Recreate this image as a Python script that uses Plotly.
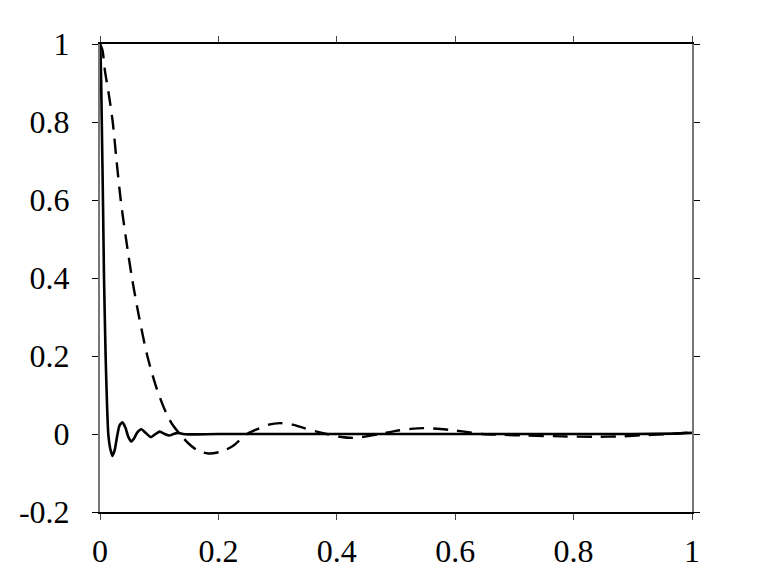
import plotly.graph_objects as go

# Solid curve (narrow response)
solid_x = [0.0, 0.001, 0.002, 0.003, 0.005, 0.0068, 0.0095, 0.012, 0.014, 0.017, 0.021, 0.025,
           0.029, 0.033, 0.038, 0.043, 0.048, 0.053, 0.058, 0.063, 0.070, 0.077, 0.086, 0.093,
           0.101, 0.109, 0.117, 0.124, 0.132, 0.14, 0.15, 0.2, 0.3, 0.4, 0.5, 0.6, 0.7, 0.8,
           0.9, 0.97, 1.0]
solid_y = [1.0, 0.97, 0.9, 0.8, 0.6, 0.4, 0.2, 0.07, 0.0, -0.035, -0.056, -0.04,
           -0.005, 0.022, 0.030, 0.016, -0.008, -0.019, -0.010, 0.004, 0.012, 0.003, -0.008, -0.001,
           0.006, 0.0, -0.004, 0.0, 0.003, 0.0, -0.001, 0.0, 0.0, 0.0, 0.0, 0.0, 0.0, 0.0,
           0.0, 0.001, 0.003]

# Dashed curve (wide response)
dash_x = [0.0, 0.004, 0.0085, 0.015, 0.0215, 0.028, 0.035, 0.044, 0.054, 0.066, 0.080, 0.095,
          0.11, 0.122, 0.135, 0.15, 0.165, 0.183, 0.205, 0.225, 0.248, 0.265, 0.285, 0.304,
          0.325, 0.345, 0.366, 0.383, 0.405, 0.427, 0.45, 0.473, 0.5, 0.525, 0.546, 0.575,
          0.6, 0.625, 0.645, 0.68, 0.72, 0.78, 0.84, 0.88, 0.92, 0.96, 1.0]
dash_y = [1.0, 0.985, 0.93, 0.87, 0.8, 0.7, 0.6, 0.5, 0.4, 0.3, 0.2, 0.12,
          0.06, 0.025, 0.0, -0.025, -0.042, -0.05, -0.045, -0.03, 0.0, 0.012, 0.024, 0.028,
          0.024, 0.015, 0.006, 0.0, -0.007, -0.010, -0.006, 0.0, 0.008, 0.013, 0.015, 0.013,
          0.009, 0.004, 0.0, -0.002, -0.004, -0.006, -0.007, -0.006, -0.003, 0.0, 0.004]

x_ticks = [0, 0.2, 0.4, 0.6, 0.8, 1]
x_labels = ["0", "0.2", "0.4", "0.6", "0.8", "1"]
y_ticks = [-0.2, 0, 0.2, 0.4, 0.6, 0.8, 1]
y_labels = ["-0.2", "0", "0.2", "0.4", "0.6", "0.8", "1"]

fig = go.Figure()
fig.add_trace(go.Scatter(x=dash_x, y=dash_y, mode="lines",
                         line=dict(color="black", width=2.4, dash="15px,9px", shape="spline", smoothing=0.8),
                         showlegend=False))
fig.add_trace(go.Scatter(x=solid_x, y=solid_y, mode="lines",
                         line=dict(color="black", width=2.6, shape="spline", smoothing=0.6),
                         showlegend=False))

font = dict(family="Liberation Serif, Times New Roman, serif", size=32, color="black")
fig.update_layout(
    width=765, height=575,
    margin=dict(l=100, r=73, t=44, b=63, autoexpand=False),
    paper_bgcolor="white", plot_bgcolor="white",
    font=font,
    xaxis=dict(range=[0, 1], tickvals=x_ticks, ticktext=x_labels, showgrid=False, zeroline=False,
               showline=True, linecolor="black", linewidth=1.5, mirror="ticks",
               ticks="outside", ticklen=6, tickcolor="#444", tickwidth=1.2, automargin=False,
               ticklabelstandoff=4, tickfont=font),
    yaxis=dict(range=[-0.2, 1], tickvals=y_ticks, ticktext=y_labels, showgrid=False, zeroline=False,
               showline=True, linecolor="#777", linewidth=2, mirror="ticks",
               ticks="outside", ticklen=6, tickcolor="black", tickwidth=1.2, automargin=False,
               ticklabelstandoff=16, tickfont=font),
)

fig.write_html("out.html")
